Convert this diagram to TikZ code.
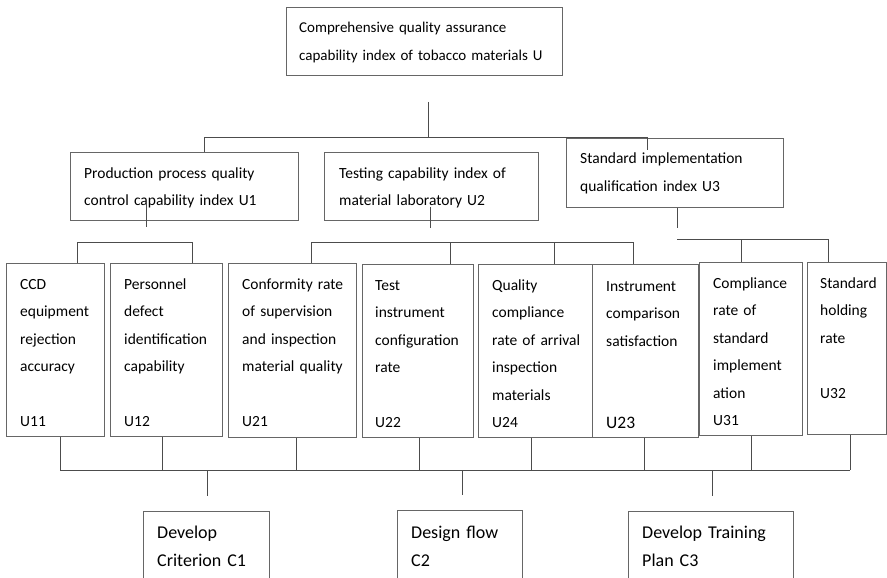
\documentclass[tikz,border=0pt]{standalone}
\usepackage{fontspec}
\setmainfont{Carlito}
\usetikzlibrary{positioning,calc}

\tikzset{
  box/.style={draw=black!60, line width=0.9pt, anchor=north west, inner sep=0pt},
  txt/.style={anchor=base west, align=left, inner sep=0pt, text width=300pt,
    font=\fontsize{15.5}{27.5}\selectfont},
  big/.style={font=\fontsize{18}{28}\selectfont},
  link/.style={draw=black!70, line width=0.9pt}
}

\begin{document}
\begin{tikzpicture}[x=1pt,y=-1pt]
    \clip (0,0) rectangle (887,578);

    % Top index
    \node[box, minimum width=276pt, minimum height=68pt] (u) at (286,7) {};
    \node[txt, font=\fontsize{15}{28}\selectfont] (ut) at (299,33) {Comprehensive quality assurance\\capability index of tobacco materials U};

    % First level indexes
    \node[box, minimum width=228pt, minimum height=68pt] (u1) at (70,152) {};
    \node[txt] (u1t) at (84,178) {Production process quality\\control capability index U1};
    \node[box, minimum width=214pt, minimum height=68pt] (u2) at (324,152) {};
    \node[txt] (u2t) at (339,178) {Testing capability index of\\material laboratory U2};
    \node[box, minimum width=217pt, minimum height=69pt] (u3) at (566,138) {};
    \node[txt] (u3t) at (580,164) {Standard implementation\\qualification index U3};

    % Second level indexes
    \node[box, minimum width=98pt, minimum height=173pt] (u11) at (6,263) {};
    \node[txt] (u11t) at (20,289) {CCD\\equipment\\rejection\\accuracy\\[27.5pt]U11};
    \node[box, minimum width=112pt, minimum height=173pt] (u12) at (110,263) {};
    \node[txt] (u12t) at (124,289) {Personnel\\defect\\identification\\capability\\[27.5pt]U12};
    \node[box, minimum width=128pt, minimum height=174pt] (u21) at (228,263) {};
    \node[txt] (u21t) at (242,289) {Conformity rate\\of supervision\\and inspection\\material quality\\[27.5pt]U21};
    \node[box, minimum width=111pt, minimum height=173pt] (u22) at (362,264) {};
    \node[txt] (u22t) at (375,290) {Test\\instrument\\configuration\\rate\\[27.5pt]U22};
    \node[box, minimum width=114pt, minimum height=173pt] (u24) at (478,264) {};
    \node[txt] (u24t) at (492,290) {Quality\\compliance\\rate of arrival\\inspection\\materials\\U24};
    \node[box, minimum width=106pt, minimum height=173pt] (u23) at (592,264) {};
    \node[txt] (u23t) at (606,291) {Instrument\\comparison\\satisfaction\\[55pt]{\fontsize{17.5}{27.5}\selectfont U23}};
    \node[box, minimum width=103pt, minimum height=173pt] (u31) at (699,262) {};
    \node[txt] (u31t) at (713,288) {Compliance\\rate of\\standard\\implement\\ation\\U31};
    \node[box, minimum width=79pt, minimum height=172pt] (u32) at (807,262) {};
    \node[txt] (u32t) at (820,288) {Standard\\holding\\rate\\[27.5pt]U32};

    % Measures
    \node[box, minimum width=126pt, minimum height=90pt] (c1) at (143,511) {};
    \node[txt, big] (c1t) at (157,538) {Develop\\Criterion C1};
    \node[box, minimum width=125pt, minimum height=90pt] (c2) at (397,510) {};
    \node[txt, big] (c2t) at (411,538) {Design flow\\C2};
    \node[box, minimum width=165pt, minimum height=90pt] (c3) at (628,511) {};
    \node[txt, big] (c3t) at (642,538) {Develop Training\\Plan C3};

    % Connectors, top level
    \coordinate (j0) at (428,137);
    \draw[link] (j0) ++(0,-35) -- (j0);
    \draw[link] (u1.north -| 204,0) -- (204,137) -- (647,137) -- (647,150);

    % Connectors, U1
    \draw[link] (146,205) -- (146,227);
    \draw[link] (u11.north -| 77,0) -- (77,242) -- (192,242) -- (u12.north -| 192,0);

    % Connectors, U2
    \draw[link] (430,207) -- (430,228);
    \draw[link] (u21.north -| 311,0) -- (311,242) -- (633,242) -- (u23.north -| 633,0);
    \draw[link] (u22.north -| 450,0) -- (450,242);
    \draw[link] (u24.north -| 554,0) -- (554,242);

    % Connectors, U3
    \draw[link] (u3.south -| 677,0) -- (677,228);
    \draw[link] (677,239) -- (828,239) -- (u32.north -| 828,0);
    \draw[link] (u31.north -| 741,0) -- (741,239);

    % Connectors to measures
    \foreach \n/\x in {u11/60,u12/162,u21/296,u22/419,u24/531,u23/644,u31/751,u32/850}
        \draw[link] (\n.south -| \x,0) -- (\x,470);
    \draw[link] (60,470) -- (850,470);
    \foreach \n/\x in {c1/207,c2/462,c3/712}
        \draw[link] (\x,470) -- ($(\n.north -| \x,0)+(0,-15)$);
\end{tikzpicture}
\end{document}
